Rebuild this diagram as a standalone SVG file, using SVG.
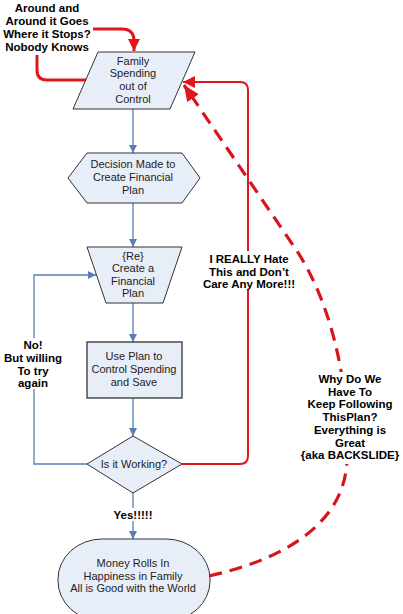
<svg xmlns="http://www.w3.org/2000/svg" width="403" height="614" viewBox="0 0 403 614">
<style>
.node{fill:#E8EEF8;stroke:#333;stroke-width:1}
.nt{font-family:"Liberation Sans",Arial,sans-serif;font-size:11px;fill:#222;text-anchor:middle}
.lbl{font-family:"Liberation Sans",Arial,sans-serif;font-size:11.5px;font-weight:bold;fill:#000;text-anchor:middle}
.blue{fill:none;stroke:#5A7DB5;stroke-width:1.3}
.red{fill:none;stroke:#E0161C;stroke-width:2}
.redt{fill:none;stroke:#E0161C;stroke-width:3}
.dash{fill:none;stroke:#D9141C;stroke-width:3.2;stroke-dasharray:13 8}
.bg{fill:#fff}
</style>
<defs>
<marker id="ab" markerUnits="userSpaceOnUse" markerWidth="10" markerHeight="10" refX="8" refY="4" orient="auto">
<path d="M0,0 L8,4 L0,8 z" fill="#5A7DB5"/>
</marker>
<marker id="ar" markerUnits="userSpaceOnUse" markerWidth="14" markerHeight="14" refX="12" refY="6" orient="auto">
<path d="M0,0 L12,6 L0,12 z" fill="#E0161C"/>
</marker>
<marker id="ard" markerUnits="userSpaceOnUse" markerWidth="18" markerHeight="16" refX="16" refY="7" orient="auto">
<path d="M0,0 L16,7 L0,14 z" fill="#E0161C"/>
</marker>
</defs>
<rect width="403" height="614" fill="#fff"/>
<g id="connectors">
<path class="blue" d="M133,109 L133,153" marker-end="url(#ab)"/>
<path class="blue" d="M133,203 L133,247" marker-end="url(#ab)"/>
<path class="blue" d="M133,303 L133,342" marker-end="url(#ab)"/>
<path class="blue" d="M133,398 L133,436" marker-end="url(#ab)"/>
<path class="blue" d="M133,493 L133,539" marker-end="url(#ab)"/>
<path class="blue" d="M87,464 L34,464 L34,275 L96,275" marker-end="url(#ab)"/>
<path class="red" d="M182,464 L240,464 Q248,464 248,456 L248,90 Q248,82 240,82 L183,82" marker-end="url(#ar)"/>
<path class="redt" d="M93,29 L122,29 Q134,29 134,41 L134,51" marker-end="url(#ar)"/>
<path class="redt" d="M37,55 L37,70 Q37,80 47,80 L87,80"/>
<path class="dash" d="M209,576 C290,558 345,520 347,460 C350,380 330,300 295,248 L184,85" marker-end="url(#ard)"/>
</g>
<g id="label-around">
<text class="lbl"><tspan x="47" y="12">Around and</tspan><tspan x="47" y="25">Around it Goes</tspan><tspan x="47" y="38">Where it Stops?</tspan><tspan x="47" y="51">Nobody Knows</tspan></text>
</g>
<g id="label-no">
<rect class="bg" x="2" y="338" width="64" height="51"/>
<text class="lbl"><tspan x="33" y="349">No!</tspan><tspan x="33" y="362">But willing</tspan><tspan x="33" y="375">To try</tspan><tspan x="33" y="387">again</tspan></text>
</g>
<g id="label-hate">
<rect class="bg" x="204" y="251" width="92" height="38"/>
<text class="lbl"><tspan x="249" y="263">I REALLY Hate</tspan><tspan x="249" y="276">This and Don’t</tspan><tspan x="249" y="288">Care Any More!!!</tspan></text>
</g>
<g id="label-why">
<rect class="bg" x="298" y="372" width="105" height="92"/>
<text class="lbl"><tspan x="350" y="383">Why Do We</tspan><tspan x="350" y="396">Have To</tspan><tspan x="350" y="408">Keep Following</tspan><tspan x="350" y="421">ThisPlan?</tspan><tspan x="350" y="434">Everything is</tspan><tspan x="350" y="447">Great</tspan><tspan x="350" y="459">{aka BACKSLIDE}</tspan></text>
</g>
<g id="label-yes">
<rect class="bg" x="110" y="508" width="46" height="13"/>
<text class="lbl" x="133" y="519">Yes!!!!!</text>
</g>
<g id="node-family">
<polygon class="node" points="98,52 195,52 170,109 73,109"/>
<text class="nt"><tspan x="133" y="65">Family</tspan><tspan x="133" y="77">Spending</tspan><tspan x="133" y="90">out of</tspan><tspan x="133" y="103">Control</tspan></text>
</g>
<g id="node-decision">
<polygon class="node" points="87,153 182,153 200,178 182,203 87,203 68,178"/>
<text class="nt"><tspan x="133" y="168">Decision Made to</tspan><tspan x="133" y="181">Create Financial</tspan><tspan x="133" y="194">Plan</tspan></text>
</g>
<g id="node-create">
<polygon class="node" points="87,247 182,247 163,303 106,303"/>
<text class="nt"><tspan x="133" y="260">{Re}</tspan><tspan x="133" y="272">Create a</tspan><tspan x="133" y="285">Financial</tspan><tspan x="133" y="297">Plan</tspan></text>
</g>
<g id="node-use">
<rect class="node" x="87" y="342" width="95" height="56" style="stroke-width:1.3"/>
<text class="nt"><tspan x="134" y="360">Use Plan to</tspan><tspan x="134" y="373">Control Spending</tspan><tspan x="134" y="386">and Save</tspan></text>
</g>
<g id="node-working">
<polygon class="node" points="133,436 182,464 133,493 87,464"/>
<text class="nt" x="134" y="468">Is it Working?</text>
</g>
<g id="node-money">
<rect class="node" x="58" y="539" width="152" height="82" rx="44" ry="40"/>
<text class="nt"><tspan x="133" y="567">Money Rolls In</tspan><tspan x="133" y="580">Happiness in Family</tspan><tspan x="133" y="592">All is Good with the World</tspan></text>
</g>
</svg>
